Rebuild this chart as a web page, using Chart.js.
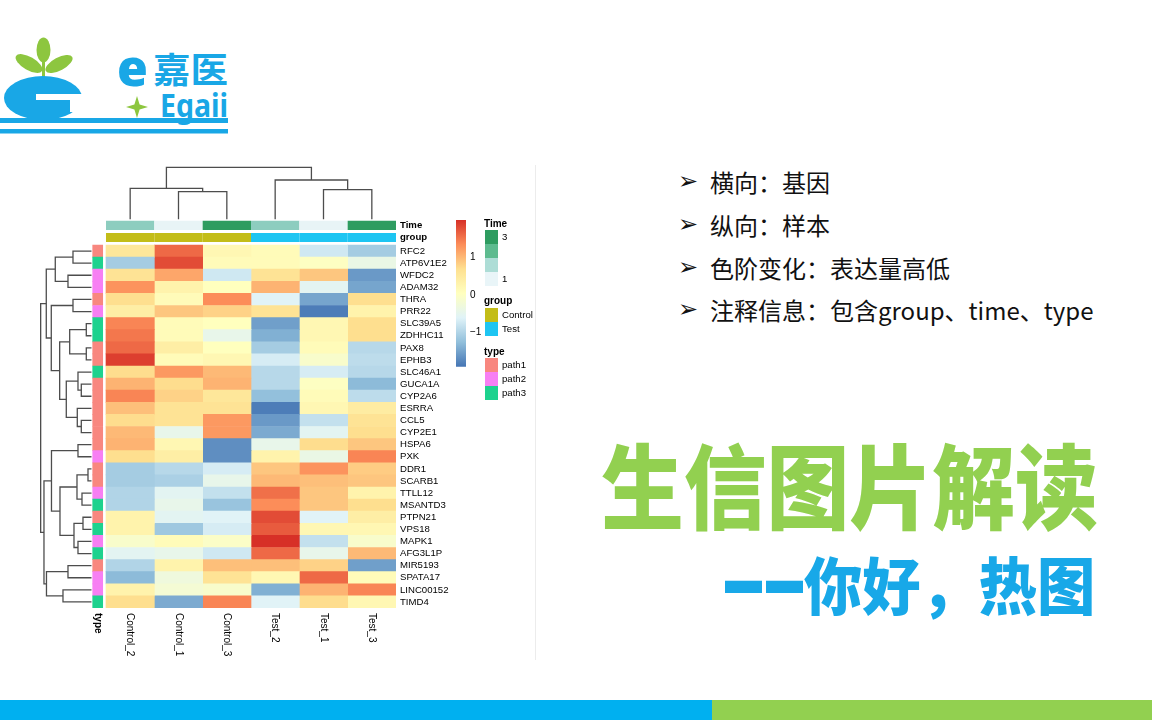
<!DOCTYPE html>
<html lang="zh-CN"><head><meta charset="utf-8"><title>热图解读</title>
<script src="https://cdn.jsdelivr.net/npm/chart.js@4.4.1/dist/chart.umd.min.js"></script>
<style>
html,body{margin:0;padding:0;background:#fff;}
body{position:relative;width:1152px;height:720px;overflow:hidden;}
canvas{position:absolute;}
.lg{position:absolute;font-family:"Liberation Sans",Arial,sans-serif;font-size:9.6px;line-height:12px;color:#000;white-space:nowrap;}
.lg.b{font-weight:bold;font-size:10px;}
.sw{position:absolute;width:13px;height:14px;}
.pt{position:absolute;left:710px;height:30px;line-height:30px;font-family:"Noto Sans CJK SC",sans-serif;font-size:24px;color:#111;white-space:nowrap;}
.ar{position:absolute;left:678px;height:30px;line-height:30px;font-family:"DejaVu Sans",sans-serif;font-size:24px;color:#111;}
.dash{position:absolute;top:565.5px;font-family:"Liberation Sans",Arial,sans-serif;font-weight:bold;font-size:37px;line-height:37px;color:#18A8E8;transform:scaleY(3.3);transform-origin:50% 21px;}
</style></head>
<body>
<svg style="position:absolute;left:0;top:0" width="240" height="140">
 <g fill="#8DC63F">
  <ellipse cx="43.5" cy="50" rx="7" ry="12.5"/>
  <ellipse cx="29" cy="63.5" rx="15" ry="6.5" transform="rotate(30 29 63.5)"/>
  <ellipse cx="59" cy="64" rx="15" ry="6.5" transform="rotate(-28 59 64)"/>
  <rect x="42" y="60" width="3" height="17"/>
  <path d="M137 96 L139.6 104.4 L148 107 L139.6 109.6 L137 118 L134.4 109.6 L126 107 L134.4 104.4 Z"/>
 </g>
 <g fill="#19A7E6">
  <ellipse cx="43" cy="98" rx="39" ry="22"/>
  <rect x="0" y="118" width="228" height="5"/>
  <rect x="0" y="129" width="228" height="4.5"/>
  <text x="117" y="86" font-family="Noto Sans" font-weight="900" font-size="50">e</text>
  <text x="153" y="83" font-family="Noto Sans CJK SC" font-weight="bold" font-size="35" textLength="75" lengthAdjust="spacingAndGlyphs">嘉医</text>
  <text x="160" y="117" font-family="Noto Sans" font-weight="bold" font-size="32" textLength="68" lengthAdjust="spacingAndGlyphs">Egaii</text>
 </g>
 <g fill="#fff">
  <rect x="36" y="94" width="50" height="6"/>
  <rect x="70" y="100" width="16" height="12"/>
 </g>
</svg>

<canvas id="heat" width="480" height="520" style="left:0;top:150px"></canvas>
<canvas id="cbar" width="60" height="170" style="left:440px;top:210px"></canvas>
<div id="legends"></div>

<div style="position:absolute;left:535px;top:165px;width:1px;height:495px;background:#ececec"></div>

<div class="ar" style="top:166px">➢</div><div class="pt" style="top:167px">横向：基因</div>
<div class="ar" style="top:209px">➢</div><div class="pt" style="top:210px">纵向：样本</div>
<div class="ar" style="top:252px">➢</div><div class="pt" style="top:253px">色阶变化：表达量高低</div>
<div class="ar" style="top:294px">➢</div><div class="pt" style="top:295px">注释信息：包含group、time、type</div>

<div style="position:absolute;left:601px;top:436px;font-family:'Noto Sans CJK SC',sans-serif;font-weight:900;font-size:92px;line-height:92px;color:#92D050;white-space:nowrap;transform:scaleX(0.9);transform-origin:0 0;">生信图片解读</div>
<div class="dash" style="left:725px">—</div><div class="dash" style="left:766px">—</div>
<div style="position:absolute;left:804px;top:552px;font-family:'Noto Sans CJK SC',sans-serif;font-weight:900;font-size:62px;line-height:62px;color:#18A8E8;white-space:nowrap;transform:scaleX(0.94);transform-origin:0 0;">你好，热图</div>

<div style="position:absolute;left:0;top:700px;width:712px;height:20px;background:#00B0F0"></div>
<div style="position:absolute;left:712px;top:700px;width:440px;height:20px;background:#92D050"></div>

<script>
// ---------------- data ----------------
const samples = ['Control_2','Control_1','Control_3','Test_2','Test_1','Test_3'];
const genes = ['RFC2','ATP6V1E2','WFDC2','ADAM32','THRA','PRR22','SLC39A5','ZDHHC11','PAX8','EPHB3',
  'SLC46A1','GUCA1A','CYP2A6','ESRRA','CCL5','CYP2E1','HSPA6','PXK','DDR1','SCARB1',
  'TTLL12','MSANTD3','PTPN21','VPS18','MAPK1','AFG3L1P','MIR5193','SPATA17','LINC00152','TIMD4'];
const control2 = [0.55,-1.1,0.62,1.3,0.7,0.4,1.4,1.5,1.6,1.9, 0.72,1.05,1.4,0.95,0.72,1.0,1.05,0.7,-1.1,-1.1, -1.0,-1.0,0.3,0.3,-0.1,-0.55,-1.0,-1.3,0.3,0.7];
const control1 = [1.6,1.8,1.15,0.3,0.12,0.9,0.12,0.12,0.4,0.12, 1.25,0.72,0.8,0.62,0.62,-0.45,0.2,0.4,-0.95,-1.05, -0.55,-0.45,-0.55,-1.15,0.12,-0.45,0.3,-0.3,-0.2,-1.45];
const control3 = [0.2,0.12,-0.75,0.05,1.35,0.8,0.05,-0.45,0.05,0.2, 1.0,1.05,0.55,0.62,1.25,1.25,-1.7,-1.7,-0.7,-0.45, -0.85,-1.2,-0.6,-0.7,-0.05,-0.75,0.95,0.62,-0.1,1.4];
const test2    = [0.12,0.12,0.62,1.05,-0.6,0.62,-1.55,-1.4,-1.1,-0.7, -0.95,-0.95,-1.25,-1.85,-1.6,-1.45,-0.45,0.3,0.9,1.0, 1.55,1.35,1.8,1.7,2.0,1.6,0.95,0.2,-1.4,-0.6];
const test1    = [-0.75,0.0,0.9,-0.55,-1.5,-1.85,0.2,0.2,0.12,-0.1, -0.7,0.0,0.12,0.2,-0.85,-0.55,0.72,-0.4,1.3,0.95, 0.9,0.9,-0.6,0.2,-0.85,-0.45,0.8,1.6,1.05,0.72];
const test3    = [-1.1,-0.4,-1.6,-1.5,0.7,0.3,0.7,0.7,-0.95,-0.9, -0.95,-1.3,-0.9,0.45,0.62,0.7,0.9,1.4,0.85,0.9, 0.3,0.7,0.4,0.2,-0.1,1.0,-1.55,0.12,1.4,0.2];
const sampleValues = [control2, control1, control3, test2, test1, test3];
const timeLevel = [2,1,3,2,1,3];
const sampleGroup = ['Control','Control','Control','Test','Test','Test'];
const geneType = ['path1','path3','path2','path2','path1','path2','path3','path3','path1','path1',
  'path3','path1','path1','path1','path1','path1','path1','path2','path1','path1',
  'path2','path3','path1','path3','path2','path3','path1','path2','path2','path3'];
// hclust-style merges: negative = leaf (1-based), positive = earlier merge
const rowMerge = [[-1,-2],[-3,-4],[1,2],[-5,-6],[-7,-8],[-9,-10],[5,6],[-12,-13],[-11,8],[-15,-16],
  [-14,10],[9,11],[7,12],[4,13],[3,14],[-17,-18],[-19,-20],[-21,-22],[17,18],[-23,-24],
  [-25,-26],[20,21],[19,22],[16,23],[-27,-28],[-29,-30],[25,26],[24,27],[15,28]];
const rowHeight = [1.85,2.35,3.62,1.85,0.52,0.52,2.18,1.02,1.35,1.02,
  1.42,2.52,3.18,4.02,4.52,1.35,0.35,0.95,1.45,0.85,
  1.35,1.75,3.15,4.0,2.35,2.85,4.5,4.75,5.08];
const colMerge = [[-2,-3],[-1,1],[-5,-6],[-4,3],[2,4]];
const colHeight = [2.76,3.1,2.96,3.93,5.2];
const scaleRange = [-1.92, 2.0];
const colorbarTicks = [-1, 0, 1];
const colorbarLabels = ['\u22121', '0', '1'];
const timeLegendLabels = ['3', '', '', '1'];

// ---------------- styles ----------------
const heatStops = ['#4575B4','#91BFDB','#E0F3F8','#FFFFBF','#FEE090','#FC8D59','#D73027'];
const timeColors = {1:'#E8F4F6', 2:'#8DCDBF', 3:'#2E9C60'};
const timeLegendColors = ['#2E9C60','#5DBB8F','#ADDDD6','#E9F5F8'];
const groupColors = {Control:'#C3BD18', Test:'#1EC5F2'};
const typeColors = {path1:'#F8877F', path2:'#F77FF3', path3:'#1DD28E'};
const FONT = '"Liberation Sans", Arial, sans-serif';
Chart.defaults.font.family = FONT;

function hex2rgb(h){ return [1,3,5].map(i=>parseInt(h.substr(i,2),16)); }
function colorFor(v){
  let t = (v - scaleRange[0]) / (scaleRange[1] - scaleRange[0]);
  t = Math.max(0, Math.min(1, t));
  const p = t * (heatStops.length - 1);
  const i = Math.min(Math.floor(p), heatStops.length - 2);
  const f = p - i;
  const a = hex2rgb(heatStops[i]), b = hex2rgb(heatStops[i+1]);
  return 'rgb(' + a.map((x,k)=>Math.round(x + (b[k]-x)*f)).join(',') + ')';
}

// dendrogram polylines from merges
function dendro(merge, height){
  const pos = [], hh = [], segs = [];
  merge.forEach(([a,b],k)=>{
    const pa = a<0 ? (-a-1)+0.5 : pos[a-1], ha = a<0 ? 0 : hh[a-1];
    const pb = b<0 ? (-b-1)+0.5 : pos[b-1], hb = b<0 ? 0 : hh[b-1];
    const h = height[k];
    segs.push([[pa,ha],[pa,h],[pb,h],[pb,hb]]);
    pos.push((pa+pb)/2); hh.push(h);
  });
  return segs;
}
const ROW_LEAF_X = -0.3, ROW_H_UNIT = 0.207;
const COL_LEAF_Y = -2.124, COL_H_UNIT = 0.826;
const lineStyle = {type:'line', borderColor:'#4d4d4d', borderWidth:1.3, pointRadius:0, pointHoverRadius:0, fill:false, tension:0};

const datasets = [];
sampleValues.forEach((vals,c)=>{
  datasets.push({type:'bar', indexAxis:'y', grouped:false, barPercentage:1, categoryPercentage:1, borderWidth:0,
    data: vals.map((v,r)=>({y:r+0.5, x:[c, c+1]})), backgroundColor: vals.map(colorFor)});
});
datasets.push({type:'bar', indexAxis:'y', grouped:false, barPercentage:1, categoryPercentage:1, borderWidth:0,
  data: geneType.map((t,r)=>({y:r+0.5, x:[-0.275,-0.068]})), backgroundColor: geneType.map(t=>typeColors[t])});
datasets.push({type:'bar', indexAxis:'y', grouped:false, barPercentage:0.76, categoryPercentage:1, borderWidth:0,
  data: samples.map((s,c)=>({y:-1.62, x:[c, c+1]})), backgroundColor: timeLevel.map(l=>timeColors[l])});
datasets.push({type:'bar', indexAxis:'y', grouped:false, barPercentage:0.76, categoryPercentage:1, borderWidth:0,
  data: samples.map((s,c)=>({y:-0.62, x:[c, c+1]})), backgroundColor: sampleGroup.map(g=>groupColors[g])});
dendro(rowMerge, rowHeight).forEach(seg=>{
  datasets.push(Object.assign({}, lineStyle, {data: seg.map(([p,h])=>({x: ROW_LEAF_X - h*ROW_H_UNIT, y: p}))}));
});
dendro(colMerge, colHeight).forEach(seg=>{
  datasets.push(Object.assign({}, lineStyle, {data: seg.map(([p,h])=>({x: p, y: COL_LEAF_Y - h*COL_H_UNIT}))}));
});

const rowTickValues = [-1.62, -0.62].concat(genes.map((g,i)=>i+0.5));
const rowLabels = ['Time','group'].concat(genes);

const colLabelPlugin = {
  id: 'colLabels',
  afterDraw(chart){
    const {ctx, scales:{x, y}} = chart;
    const top = y.getPixelForValue(genes.length) + 5;
    const items = samples.map((s,i)=>({t:s, v:i+0.5, b:false})).concat([{t:'type', v:-0.1715, b:true}]);
    ctx.save();
    ctx.fillStyle = '#000';
    items.forEach(it=>{
      ctx.save();
      ctx.font = (it.b ? 'bold ' : '') + '10px ' + FONT;
      ctx.translate(x.getPixelForValue(it.v), top);
      ctx.rotate(Math.PI/2);
      ctx.textAlign = 'left'; ctx.textBaseline = 'middle';
      ctx.fillText(it.t, 0, 0);
      ctx.restore();
    });
    ctx.restore();
  }
};

new Chart(document.getElementById('heat'), {
  type: 'bar',
  data: { datasets },
  options: {
    responsive:false, animation:false, devicePixelRatio:1,
    layout:{autoPadding:false, padding:{left:38.33, top:15.14, right:0, bottom:62}},
    plugins:{legend:{display:false}, tooltip:{enabled:false}},
    scales:{
      x:{type:'linear', min:-1.4, max:6, offset:false, display:false},
      y:{type:'linear', reverse:true, min:-6.6, max:30, offset:false, position:'right',
        afterBuildTicks:(ax)=>{ ax.ticks = rowTickValues.map(v=>({value:v})); },
        afterFit:(ax)=>{ ax.width = 84; },
        grid:{display:false, drawTicks:false}, border:{display:false},
        ticks:{autoSkip:false, padding:4, color:'#000',
          font:(c)=>({family:FONT, size:9.6, weight: c.index < 2 ? 'bold' : 'normal'}),
          callback:(v,i)=>rowLabels[i]}
      }
    }
  },
  plugins:[colLabelPlugin]
});

new Chart(document.getElementById('cbar'), {
  type:'bar',
  data:{labels:[''], datasets:[{data:[scaleRange], borderWidth:0, barPercentage:1, categoryPercentage:1,
    backgroundColor:(c)=>{
      const ch = c.chart, ys = ch.scales.y;
      if (!ch.chartArea || !ys) return heatStops[3];
      const g = ch.ctx.createLinearGradient(0, ys.getPixelForValue(scaleRange[0]), 0, ys.getPixelForValue(scaleRange[1]));
      heatStops.forEach((col,i)=>g.addColorStop(i/(heatStops.length-1), col));
      return g;
    }}]},
  options:{
    responsive:false, animation:false, devicePixelRatio:1,
    layout:{autoPadding:false, padding:{left:16, top:10, right:0, bottom:13.3}},
    plugins:{legend:{display:false}, tooltip:{enabled:false}},
    scales:{
      x:{display:false},
      y:{min:scaleRange[0], max:scaleRange[1], offset:false, position:'right',
        afterBuildTicks:(ax)=>{ ax.ticks = colorbarTicks.map(v=>({value:v})); },
        afterFit:(ax)=>{ ax.width = 34; },
        grid:{display:false, drawTicks:false}, border:{display:false},
        ticks:{padding:4, color:'#000', font:{family:FONT, size:10}, callback:(v,i)=>colorbarLabels[i]}
      }
    }
  }
});

// annotation legends
const L = document.getElementById('legends');
function add(cls, txt, left, top, bg){
  const d = document.createElement('div');
  d.className = cls; d.style.left = left+'px'; d.style.top = top+'px';
  if (bg) d.style.background = bg; if (txt) d.textContent = txt;
  L.appendChild(d);
}
add('lg b','Time',484,218);
timeLegendColors.forEach((c,i)=>{ add('sw','',485,230+i*14,c); if (timeLegendLabels[i]) add('lg',timeLegendLabels[i],502,231+i*14); });
add('lg b','group',484,295);
['Control','Test'].forEach((g,i)=>{ add('sw','',485,308+i*14,groupColors[g]); add('lg',g,502,309+i*14); });
add('lg b','type',484,346);
['path1','path2','path3'].forEach((t,i)=>{ add('sw','',485,358+i*14,typeColors[t]); add('lg',t,502,359+i*14); });
</script>
</body></html>
